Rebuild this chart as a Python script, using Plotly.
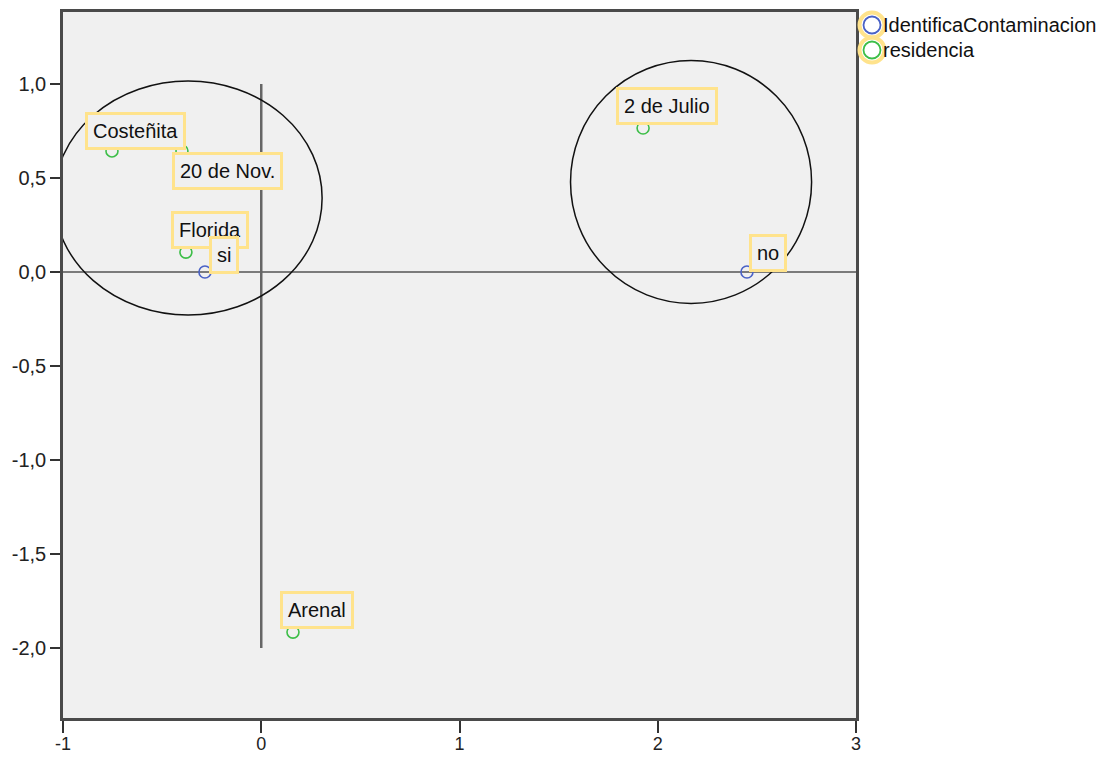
import plotly.graph_objects as go

# ---- data ----
res_labels = ["Costeñita", "20 de Nov.", "Florida", "2 de Julio", "Arenal"]
res_x = [-0.753, -0.400, -0.380, 1.926, 0.160]
res_y = [0.644, 0.644, 0.106, 0.766, -1.915]

id_labels = ["si", "no"]
id_x = [-0.284, 2.450]
id_y = [0.0, 0.0]

x_ticks = [-1, 0, 1, 2, 3]
x_ticktext = ["-1", "0", "1", "2", "3"]
y_ticks = [1.0, 0.5, 0.0, -0.5, -1.0, -1.5, -2.0]
y_ticktext = ["1,0", "0,5", "0,0", "-0,5", "-1,0", "-1,5", "-2,0"]

# ellipses (center x, center y, radius x, radius y) in data units
ell_cx = [-0.369, 2.168]
ell_cy = [0.394, 0.479]
ell_rx = [0.676, 0.608]
ell_ry = [0.622, 0.646]

# reference lines
hline_y = 0.0
hline_x = [-1, 3]
vline_x = 0.0
vline_y = [-2.0, 1.0]

legend_names = ["IdentificaContaminacion", "residencia"]

# ---- styles ----
FONT = "Liberation Sans, Arial, sans-serif"
BLUE = "#4A62C6"
GREEN = "#3DBE48"
YELLOW = "#FFE38C"
BG = "#F0F0F0"

# label offsets in pixels (xshift, yshift)
res_off = [(24, 20), (46, -20), (24, 22), (24, 22), (24, 22)]
id_off = [(19, 17), (21, 19)]

fig = go.Figure()

fig.add_trace(go.Scatter(
    x=id_x, y=id_y, mode="markers", name=legend_names[0], showlegend=False,
    marker=dict(symbol="circle-open", size=12, color=BLUE, line=dict(width=1.6, color=BLUE)),
))
fig.add_trace(go.Scatter(
    x=res_x, y=res_y, mode="markers", name=legend_names[1], showlegend=False,
    marker=dict(symbol="circle-open", size=12, color=GREEN, line=dict(width=1.6, color=GREEN)),
))

shapes = []
shapes.append(dict(type="line", xref="x", yref="y", x0=hline_x[0], x1=hline_x[1],
                   y0=hline_y, y1=hline_y, line=dict(color="#555555", width=1.5), layer="below"))
shapes.append(dict(type="line", xref="x", yref="y", x0=vline_x, x1=vline_x,
                   y0=vline_y[0], y1=vline_y[1], line=dict(color="#666666", width=2.5), layer="below"))
for cx, cy, rx, ry in zip(ell_cx, ell_cy, ell_rx, ell_ry):
    shapes.append(dict(type="circle", xref="x", yref="y", x0=cx - rx, x1=cx + rx,
                       y0=cy - ry, y1=cy + ry, line=dict(color="#111111", width=1.5)))

annotations = []
for lab, x, y, (dx, dy) in zip(res_labels + id_labels, res_x + id_x, res_y + id_y, res_off + id_off):
    annotations.append(dict(
        x=x, y=y, xref="x", yref="y", text=lab, showarrow=False,
        xshift=dx, yshift=dy, xanchor="center", yanchor="middle",
        font=dict(family=FONT, size=20, color="#111111"),
        bgcolor=BG, bordercolor=YELLOW, borderwidth=3, borderpad=5,
    ))

# figure sits at an 8px page offset (body margin)
W, H = 1107, 750
L, R, T, B = 55, 259, 4, 40
pw, ph = W - L - R, H - T - B
OFF = 8
def px(xp):
    return (xp - OFF - L) / pw
def py(yp):
    return (H - B - (yp - OFF)) / ph

for i, (name, col) in enumerate(zip(legend_names, [BLUE, GREEN])):
    cyp = 25 + 25 * i
    shapes.append(dict(type="circle", xref="paper", yref="paper", xsizemode="pixel", ysizemode="pixel",
                       xanchor=px(872), yanchor=py(cyp), x0=-12.5, x1=12.5, y0=-12.5, y1=12.5,
                       line=dict(color=YELLOW, width=4)))
    shapes.append(dict(type="circle", xref="paper", yref="paper", xsizemode="pixel", ysizemode="pixel",
                       xanchor=px(872), yanchor=py(cyp), x0=-8.5, x1=8.5, y0=-8.5, y1=8.5,
                       line=dict(color=col, width=1.8)))
    annotations.append(dict(
        x=px(881), y=py(cyp), xref="paper", yref="paper", text=name, showarrow=False,
        xanchor="left", yanchor="middle", font=dict(family=FONT, size=20, color="#111111"),
    ))

fig.update_layout(
    width=W, height=H,
    margin=dict(l=L, r=R, t=T, b=B, autoexpand=False),
    paper_bgcolor="white", plot_bgcolor=BG,
    showlegend=False,
    shapes=shapes, annotations=annotations,
    font=dict(family=FONT, size=20, color="#222222"),
    xaxis=dict(range=[-1, 3], tickvals=x_ticks, ticktext=x_ticktext, automargin=False,
               showgrid=False, zeroline=False, showline=True, mirror=True,
               linecolor="#4a4a4a", linewidth=2.5, ticks="outside", ticklen=12,
               tickwidth=2, tickcolor="#333333", ticklabelstandoff=-4,
               tickfont=dict(size=18, color="#222222")),
    yaxis=dict(range=[-2.372, 1.383], tickvals=y_ticks, ticktext=y_ticktext, automargin=False,
               showgrid=False, zeroline=False, showline=True, mirror=True,
               linecolor="#4a4a4a", linewidth=2.5, ticks="outside", ticklen=10,
               tickwidth=2, tickcolor="#333333", tickfont=dict(size=20, color="#222222")),
)

fig.write_html("out.html")
